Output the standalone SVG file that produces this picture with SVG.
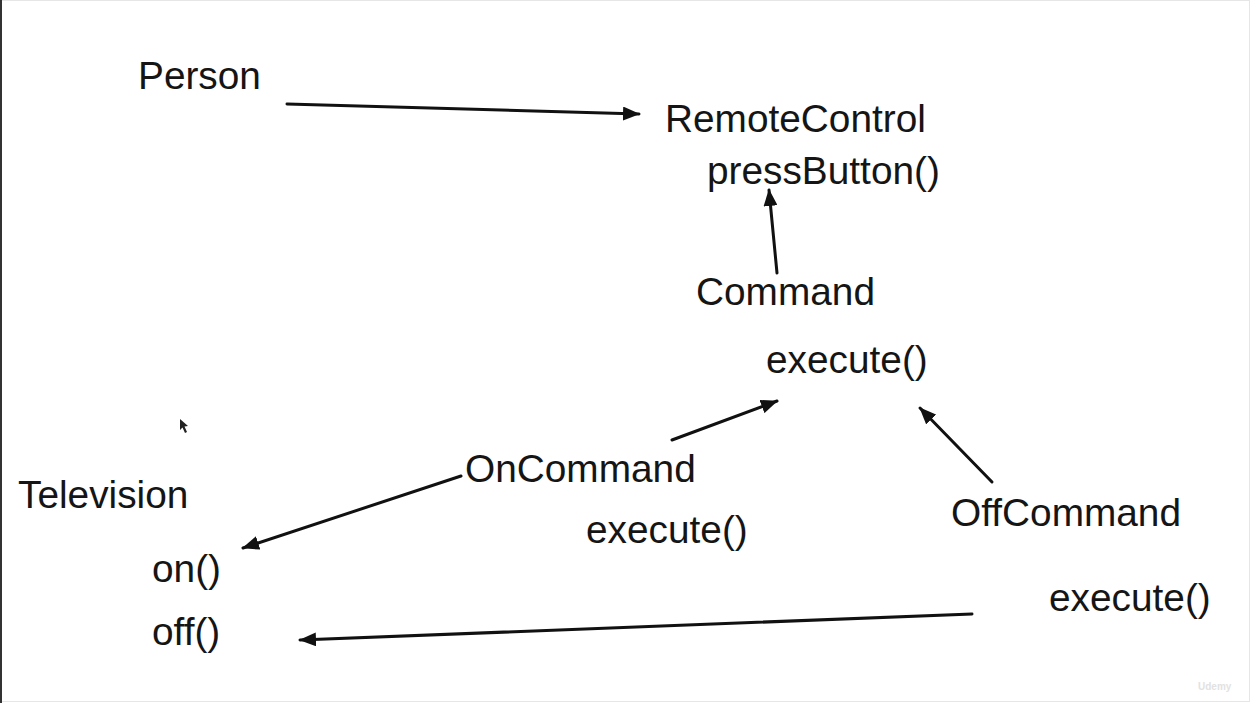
<svg xmlns="http://www.w3.org/2000/svg" width="1251" height="703" viewBox="0 0 1251 703">
<style>
.t{font-family:"Liberation Sans",Arial,sans-serif;font-size:38.8px;fill:#151515}
.c{stroke:#111;stroke-width:3;fill:none;stroke-linecap:round}
</style>
<defs>
<marker id="ah" markerUnits="userSpaceOnUse" markerWidth="18" markerHeight="14" refX="16" refY="7" orient="auto">
<path d="M0,0 L17,7 L0,14 Z" fill="#111"/>
</marker>
</defs>
<rect x="0" y="0" width="1251" height="703" fill="#fff"/>
<rect x="0.5" y="0.5" width="1249" height="701" fill="none" stroke="#e6e6e6"/>
<line x1="1" y1="0" x2="1" y2="703" stroke="#333" stroke-width="2"/>
<g id="person"><text class="t" x="138" y="89">Person</text></g>
<g id="remotecontrol"><text class="t" x="665" y="132">RemoteControl</text><text class="t" x="707" y="184">pressButton()</text></g>
<g id="command"><text class="t" x="696" y="305">Command</text><text class="t" x="766" y="373">execute()</text></g>
<g id="oncommand"><text class="t" x="465" y="482">OnCommand</text><text class="t" x="586" y="543">execute()</text></g>
<g id="offcommand"><text class="t" x="951" y="526">OffCommand</text><text class="t" x="1049" y="611">execute()</text></g>
<g id="television"><text class="t" x="18" y="508">Television</text><text class="t" x="152" y="582">on()</text><text class="t" x="152" y="645">off()</text></g>
<g id="connectors">
<line class="c" x1="287" y1="104" x2="639" y2="114" marker-end="url(#ah)"/>
<line class="c" x1="777" y1="273" x2="769" y2="190" marker-end="url(#ah)"/>
<line class="c" x1="672" y1="440" x2="777" y2="401" marker-end="url(#ah)"/>
<line class="c" x1="992" y1="482" x2="920" y2="408" marker-end="url(#ah)"/>
<line class="c" x1="461" y1="476" x2="243" y2="548" marker-end="url(#ah)"/>
<line class="c" x1="972" y1="614" x2="300" y2="640" marker-end="url(#ah)"/>
</g>
<path d="M180,419 L180,430 L182.5,427.5 L185,433 L187,432 L184.5,426.5 L188,426 Z" fill="#222"/>
<text x="1198" y="690" font-family="Liberation Sans,Arial,sans-serif" font-size="10" font-weight="bold" fill="#e2e2e2">Udemy</text>
</svg>
